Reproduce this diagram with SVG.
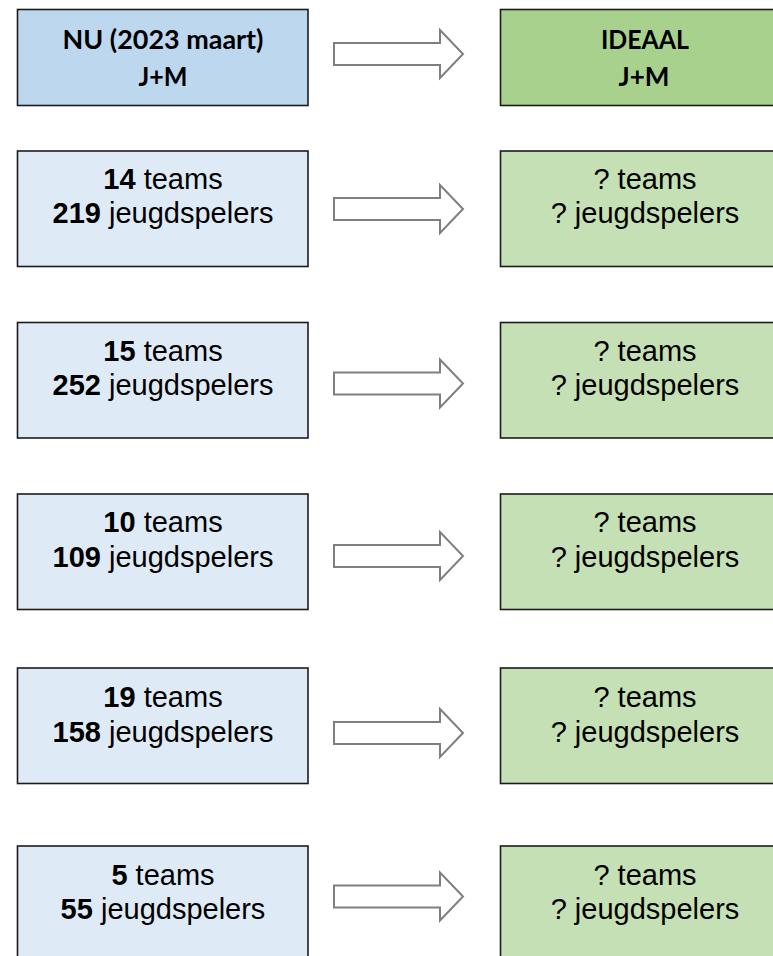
<svg xmlns="http://www.w3.org/2000/svg" width="773" height="956" viewBox="0 0 773 956">
<style>
.box{stroke:#1c1c1c;stroke-width:1.6}
.hb{fill:#BDD7EE}.hg{fill:#A9D18E}.rb{fill:#DEEBF7}.rg{fill:#C5E0B4}
.ht{font-family:Lato,"Liberation Sans",sans-serif;font-weight:bold;font-size:26px;fill:#000;text-anchor:middle}
.t{font-family:"Liberation Sans",Arial,sans-serif;font-size:29px;fill:#000;text-anchor:middle}
.b{font-weight:bold}
.arr{fill:#fff;stroke:#7f7f7f;stroke-width:2}
</style>
<rect width="773" height="956" fill="#fff"/>
<g id="connectors">
<path class="arr" d="M334,43 H440 V30 L463,54 L440,78 V65 H334 Z"/>
<path class="arr" d="M334,198 H440 V185 L463,209 L440,233 V220 H334 Z"/>
<path class="arr" d="M334,372.5 H440 V359.5 L463,383.5 L440,407.5 V394.5 H334 Z"/>
<path class="arr" d="M334,545 H440 V532 L463,556 L440,580 V567 H334 Z"/>
<path class="arr" d="M334,722 H440 V709 L463,733 L440,757 V744 H334 Z"/>
<path class="arr" d="M334,885.5 H440 V872.5 L463,896.5 L440,920.5 V907.5 H334 Z"/>
</g>
<g id="now-header">
<rect class="box hb" x="17.5" y="9.5" width="290.5" height="96"/>
<text class="ht" x="163" y="49" textLength="201" lengthAdjust="spacingAndGlyphs">NU (2023 maart)</text>
<text class="ht" x="163" y="85.5" textLength="49" lengthAdjust="spacingAndGlyphs">J+M</text>
</g>
<g id="ideal-header">
<rect class="box hg" x="500.5" y="9.5" width="290" height="96"/>
<text class="ht" x="645" y="48.5" textLength="88" lengthAdjust="spacingAndGlyphs">IDEAAL</text>
<text class="ht" x="644" y="85.5" textLength="51" lengthAdjust="spacingAndGlyphs">J+M</text>
</g>
<g id="now-1">
<rect class="box rb" x="17.5" y="151" width="290.5" height="115.5"/>
<text class="t" x="163" y="189"><tspan class="b">14</tspan> teams</text>
<text class="t" x="163" y="223"><tspan class="b">219</tspan> jeugdspelers</text>
</g>
<g id="ideal-1">
<rect class="box rg" x="500.5" y="151" width="290" height="115.5"/>
<text class="t" x="645" y="189">? teams</text>
<text class="t" x="645" y="223">? jeugdspelers</text>
</g>
<g id="now-2">
<rect class="box rb" x="17.5" y="322.5" width="290.5" height="115.5"/>
<text class="t" x="163" y="360.5"><tspan class="b">15</tspan> teams</text>
<text class="t" x="163" y="395"><tspan class="b">252</tspan> jeugdspelers</text>
</g>
<g id="ideal-2">
<rect class="box rg" x="500.5" y="322.5" width="290" height="115.5"/>
<text class="t" x="645" y="360.5">? teams</text>
<text class="t" x="645" y="395">? jeugdspelers</text>
</g>
<g id="now-3">
<rect class="box rb" x="17.5" y="494" width="290.5" height="115.5"/>
<text class="t" x="163" y="532"><tspan class="b">10</tspan> teams</text>
<text class="t" x="163" y="567"><tspan class="b">109</tspan> jeugdspelers</text>
</g>
<g id="ideal-3">
<rect class="box rg" x="500.5" y="494" width="290" height="115.5"/>
<text class="t" x="645" y="532">? teams</text>
<text class="t" x="645" y="567">? jeugdspelers</text>
</g>
<g id="now-4">
<rect class="box rb" x="17.5" y="668" width="290.5" height="115.5"/>
<text class="t" x="163" y="706.5"><tspan class="b">19</tspan> teams</text>
<text class="t" x="163" y="741.5"><tspan class="b">158</tspan> jeugdspelers</text>
</g>
<g id="ideal-4">
<rect class="box rg" x="500.5" y="668" width="290" height="115.5"/>
<text class="t" x="645" y="706.5">? teams</text>
<text class="t" x="645" y="741.5">? jeugdspelers</text>
</g>
<g id="now-5">
<rect class="box rb" x="17.5" y="846" width="290.5" height="120"/>
<text class="t" x="163" y="884.5"><tspan class="b">5</tspan> teams</text>
<text class="t" x="163" y="918.5"><tspan class="b">55</tspan> jeugdspelers</text>
</g>
<g id="ideal-5">
<rect class="box rg" x="500.5" y="846" width="290" height="120"/>
<text class="t" x="645" y="884.5">? teams</text>
<text class="t" x="645" y="918.5">? jeugdspelers</text>
</g>
</svg>
